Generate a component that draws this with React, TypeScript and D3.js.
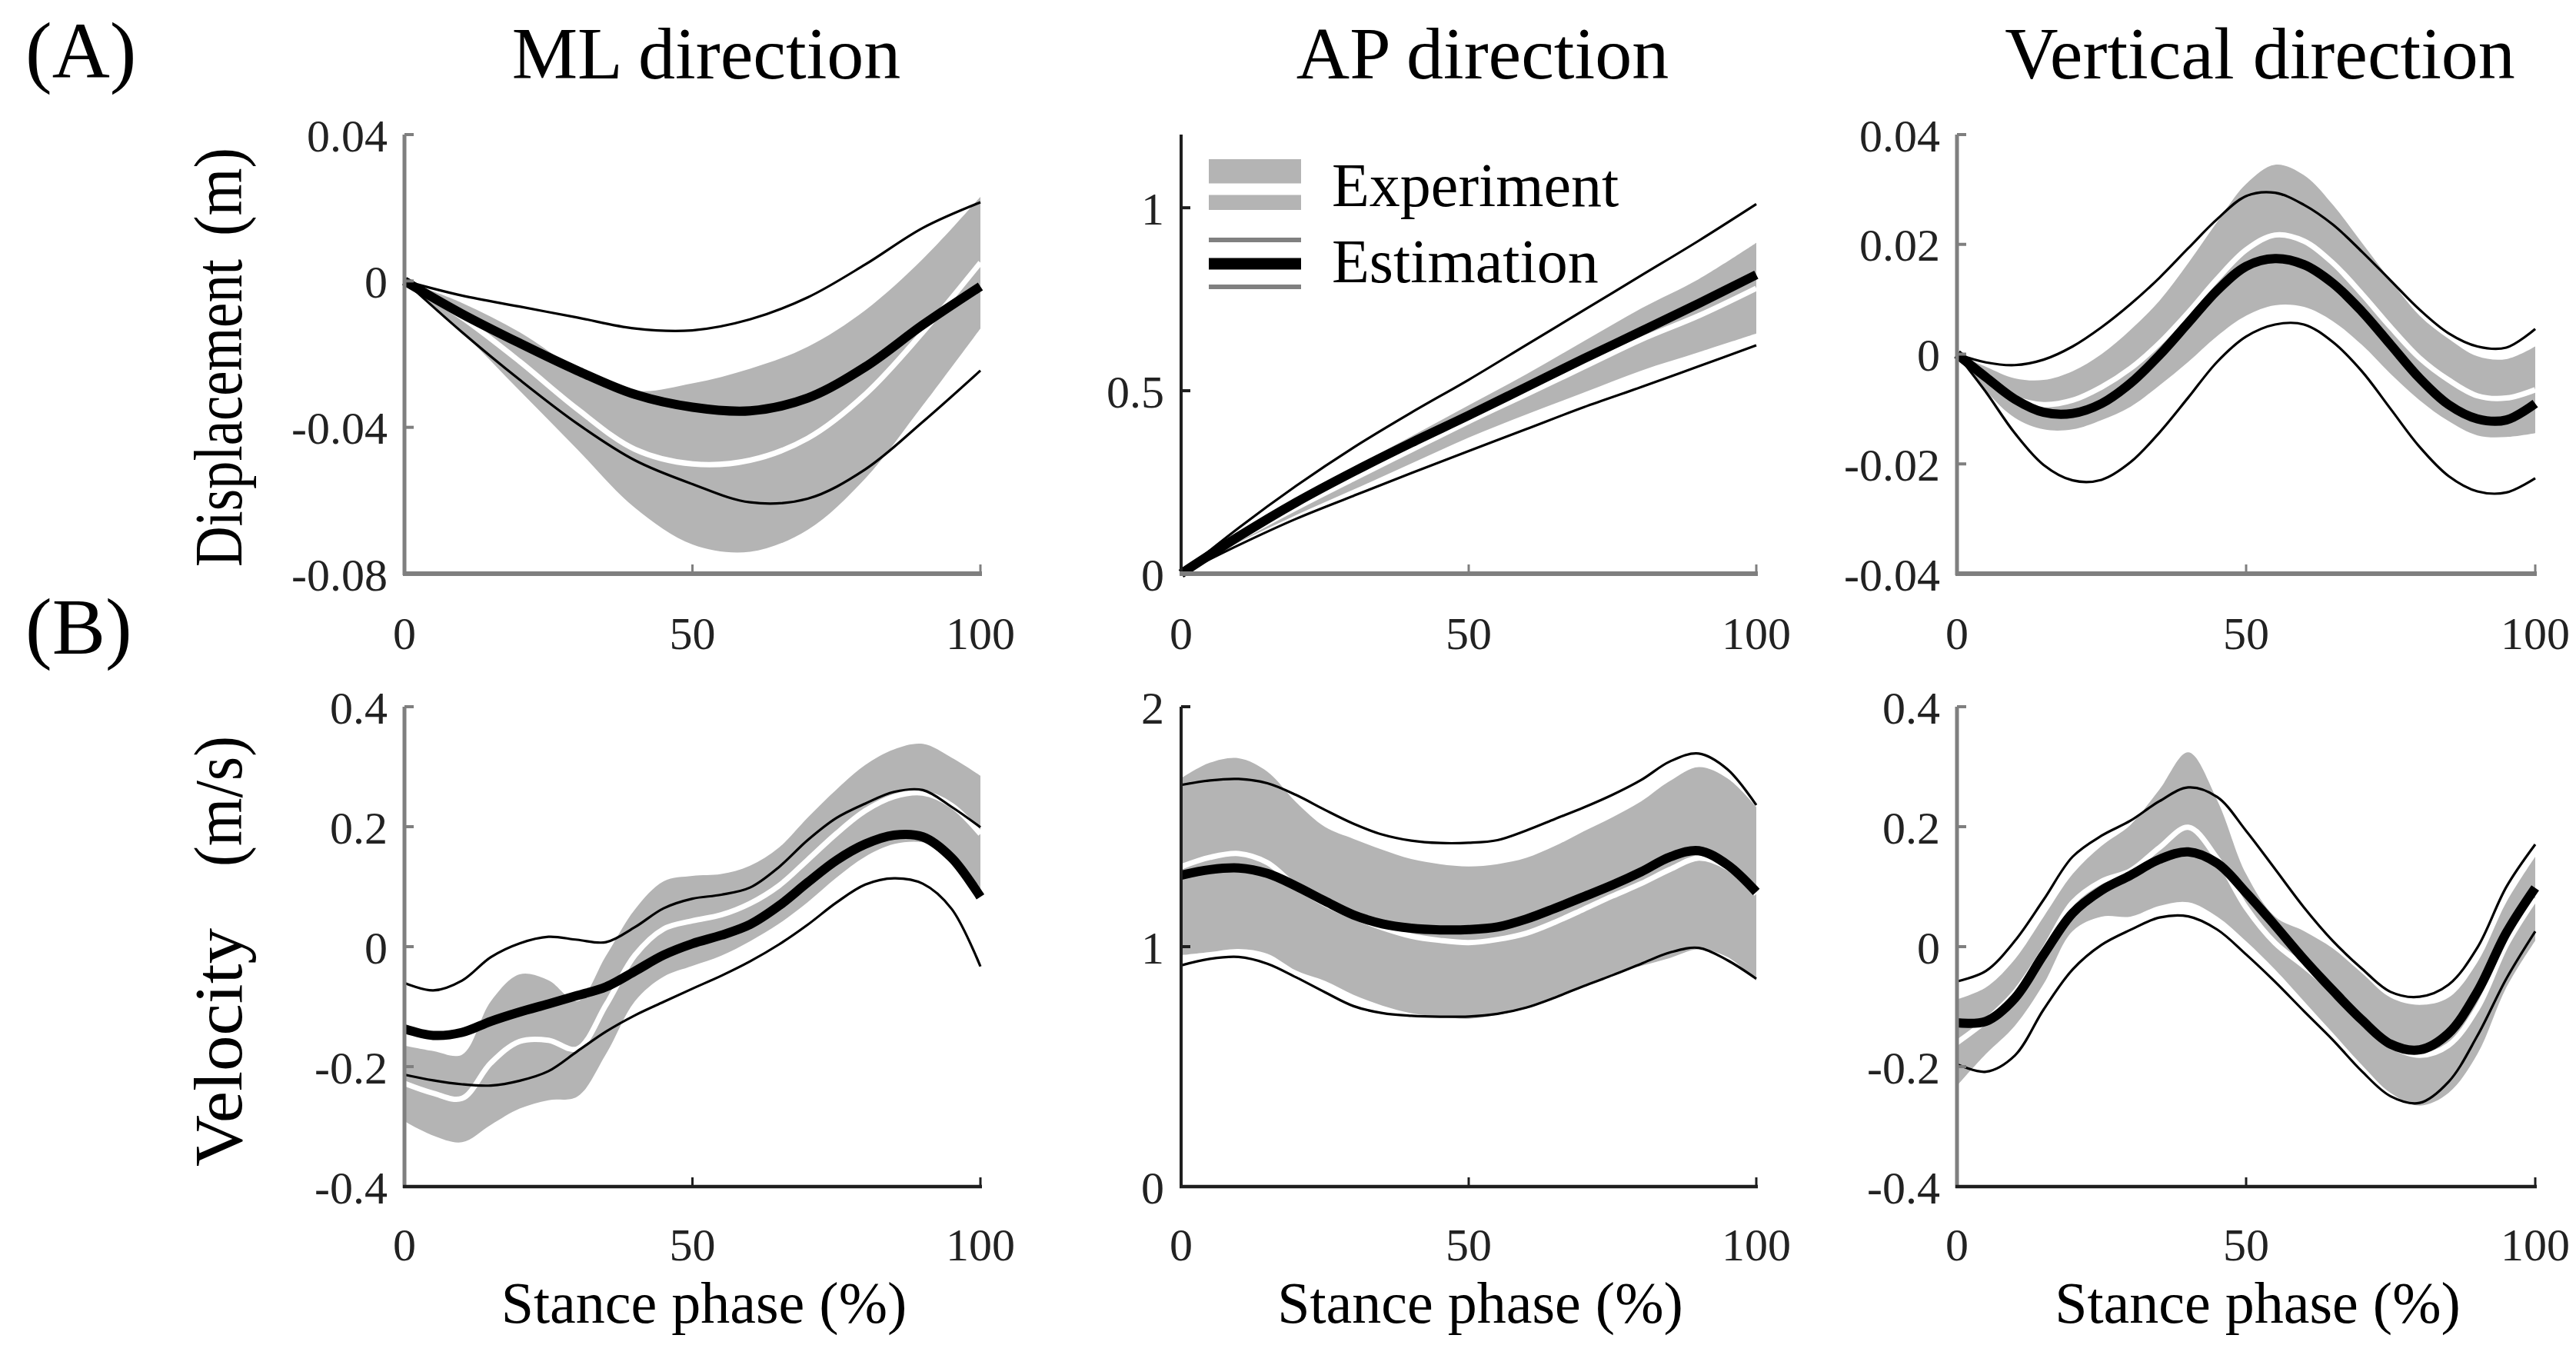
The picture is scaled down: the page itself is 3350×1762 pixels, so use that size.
import React, { useEffect } from 'react';
import * as d3 from 'd3';

const W = 3350;
const H = 1762;
const FONT = '"Liberation Serif", "Times New Roman", serif';

// stance phase grids (%)
const phase10 = [0, 10, 20, 30, 40, 50, 60, 70, 80, 90, 100];
const phase5 = [0, 5, 10, 15, 20, 25, 30, 35, 40, 45, 50, 55, 60, 65, 70, 75, 80, 85, 90, 95, 100];

const columnTitles = ['ML direction', 'AP direction', 'Vertical direction'];
const phaseTicks = [0, 50, 100];
const phaseTickLabels = ['0', '50', '100'];

// (A) displacement, ML
const a1ExpMean = [0, -0.010, -0.022, -0.035, -0.046, -0.050, -0.049, -0.043, -0.031, -0.014, 0.005];
const a1ExpSd = [0, 0.004, 0.008, 0.011, 0.016, 0.022, 0.025, 0.025, 0.023, 0.020, 0.018];
const a1EstMean = [0, -0.009, -0.017, -0.0245, -0.031, -0.0345, -0.0355, -0.032, -0.0235, -0.012, -0.0015];
const a1EstSd = [0, 0.005, 0.010, 0.0145, 0.018, 0.021, 0.025, 0.0275, 0.028, 0.0265, 0.023];

// (A) displacement, AP
const a2ExpMean = [0, 0.095, 0.18, 0.26, 0.338, 0.416, 0.49, 0.565, 0.64, 0.705, 0.78];
const a2ExpSd = [0, 0.01, 0.02, 0.03, 0.037, 0.044, 0.055, 0.07, 0.085, 0.10, 0.124];
const a2EstMean = [0, 0.1015, 0.195, 0.279, 0.3575, 0.4325, 0.51, 0.5875, 0.6625, 0.7385, 0.817];
const a2EstSd = [0, 0.0235, 0.045, 0.066, 0.0825, 0.0975, 0.115, 0.1325, 0.1525, 0.1715, 0.193];

// (A) displacement, vertical
const a3ExpMean = [0, -0.0045, -0.008, -0.0092, -0.0084, -0.006, -0.0026, 0.002, 0.0076, 0.0137, 0.019,
  0.0217, 0.0206, 0.0166, 0.011, 0.0049, -0.0007, -0.0047, -0.0076, -0.008, -0.0065];
const a3ExpSd = [0, 0.0022, 0.0036, 0.0045, 0.0053, 0.006, 0.007, 0.0077, 0.009, 0.0104, 0.012,
  0.0128, 0.012, 0.0106, 0.0093, 0.0085, 0.0077, 0.0075, 0.0072, 0.0071, 0.0079];
const a3EstMean = [0, -0.0042, -0.0082, -0.0106, -0.0108, -0.009, -0.0053, -0.0002, 0.0057, 0.0116, 0.016,
  0.0174, 0.0163, 0.0129, 0.0078, 0.0017, -0.0044, -0.0092, -0.0118, -0.012, -0.009];
const a3EstSd = [0, 0.0027, 0.0062, 0.0096, 0.0122, 0.0139, 0.0144, 0.0141, 0.0136, 0.013, 0.0128,
  0.012, 0.0109, 0.0107, 0.0109, 0.0117, 0.0125, 0.013, 0.0132, 0.0132, 0.0136];

// (B) velocity, ML
const b1ExpMean = [-0.228, -0.2445, -0.253, -0.194, -0.158, -0.156, -0.1705, -0.097, -0.0145, 0.0295, 0.043,
  0.053, 0.072, 0.1015, 0.1445, 0.1885, 0.2265, 0.25, 0.256, 0.2355, 0.188];
const b1ExpSd = [0.063, 0.0705, 0.073, 0.103, 0.112, 0.10, 0.0795, 0.082, 0.0765, 0.0795, 0.075,
  0.068, 0.063, 0.0635, 0.0705, 0.0735, 0.0765, 0.079, 0.082, 0.0795, 0.097];
const b1EstMean = [-0.137, -0.148, -0.143, -0.1245, -0.109, -0.0955, -0.0815, -0.067, -0.041, -0.014, 0.005,
  0.019, 0.037, 0.068, 0.107, 0.144, 0.171, 0.186, 0.183, 0.148, 0.083];
const b1EstSd = [0.0765, 0.075, 0.0865, 0.107, 0.1145, 0.112, 0.093, 0.0745, 0.0735, 0.078, 0.075,
  0.0675, 0.0615, 0.0645, 0.0705, 0.0705, 0.0675, 0.072, 0.078, 0.085, 0.116];

// (B) velocity, AP
const b2ExpMean = [1.333, 1.372, 1.388, 1.35, 1.251, 1.178, 1.124, 1.079, 1.044, 1.026, 1.017,
  1.03, 1.056, 1.102, 1.156, 1.211, 1.263, 1.322, 1.369, 1.329, 1.22];
const b2ExpSd = [0.3685, 0.3945, 0.3975, 0.3795, 0.3505, 0.321, 0.325, 0.325, 0.321, 0.318, 0.3175,
  0.314, 0.314, 0.3175, 0.3245, 0.3285, 0.343, 0.369, 0.3795, 0.3725, 0.3615];
const b2EstMean = [1.298, 1.321, 1.328, 1.305, 1.252, 1.19, 1.132, 1.095, 1.077, 1.07, 1.071,
  1.082, 1.115, 1.16, 1.208, 1.257, 1.312, 1.374, 1.40, 1.341, 1.228];
const b2EstSd = [0.376, 0.372, 0.371, 0.376, 0.38, 0.38, 0.38, 0.372, 0.365, 0.362, 0.362,
  0.362, 0.369, 0.372, 0.372, 0.376, 0.383, 0.398, 0.405, 0.398, 0.362];

// (B) velocity, vertical
const b3ExpMean = [-0.16, -0.1235, -0.0765, -0.006, 0.0735, 0.109, 0.1265, 0.165, 0.199, 0.147, 0.065,
  0.006, -0.0325, -0.0735, -0.1205, -0.1645, -0.181, -0.1645, -0.1025, 0.003, 0.08];
const b3ExpSd = [0.072, 0.0555, 0.0555, 0.056, 0.0475, 0.059, 0.0765, 0.097, 0.125, 0.097, 0.056,
  0.044, 0.0585, 0.0705, 0.0765, 0.0795, 0.084, 0.0795, 0.0765, 0.071, 0.07];
const b3EstMean = [-0.127, -0.1245, -0.086, -0.013, 0.056, 0.094, 0.119, 0.1455, 0.158, 0.139, 0.09,
  0.0355, -0.021, -0.073, -0.122, -0.1625, -0.172, -0.1445, -0.075, 0.023, 0.098];
const b3EstSd = [0.069, 0.084, 0.0955, 0.0915, 0.094, 0.091, 0.091, 0.097, 0.1075, 0.1105, 0.103,
  0.094, 0.0865, 0.0825, 0.0855, 0.087, 0.0885, 0.081, 0.0735, 0.0765, 0.0725];

// y ticks
const mlDispTicks = [-0.08, -0.04, 0, 0.04];
const mlDispLabels = ['-0.08', '-0.04', '0', '0.04'];
const apDispTicks = [0, 0.5, 1];
const apDispLabels = ['0', '0.5', '1'];
const vDispTicks = [-0.04, -0.02, 0, 0.02, 0.04];
const vDispLabels = ['-0.04', '-0.02', '0', '0.02', '0.04'];
const velTicks = [-0.4, -0.2, 0, 0.2, 0.4];
const velLabels = ['-0.4', '-0.2', '0', '0.2', '0.4'];
const apVelTicks = [0, 1, 2];
const apVelLabels = ['0', '1', '2'];

// layout (pixels)
const colsX: [number, number][] = [[526, 1275], [1536, 2284], [2545, 3297]];
const rowsY: [number, number][] = [[175, 746], [919, 1543]];
const GREY_AXIS = '#7f7f7f';
const DARK_AXIS = '#1e1e1e';
const BAND = '#b4b4b4';

interface Panel {
  row: number;
  col: number;
  xs: number[];
  yDomain: [number, number];
  yTicks: number[];
  yLabels: string[];
  expMean: number[];
  expSd: number[];
  estMean: number[];
  estSd: number[];
  yAxisColor: string;
  xAxisColor: string;
}

const panels: Panel[] = [
  { row: 0, col: 0, xs: phase10, yDomain: [-0.08, 0.04], yTicks: mlDispTicks, yLabels: mlDispLabels,
    expMean: a1ExpMean, expSd: a1ExpSd, estMean: a1EstMean, estSd: a1EstSd, yAxisColor: GREY_AXIS, xAxisColor: GREY_AXIS },
  { row: 0, col: 1, xs: phase10, yDomain: [0, 1.2], yTicks: apDispTicks, yLabels: apDispLabels,
    expMean: a2ExpMean, expSd: a2ExpSd, estMean: a2EstMean, estSd: a2EstSd, yAxisColor: DARK_AXIS, xAxisColor: GREY_AXIS },
  { row: 0, col: 2, xs: phase5, yDomain: [-0.04, 0.04], yTicks: vDispTicks, yLabels: vDispLabels,
    expMean: a3ExpMean, expSd: a3ExpSd, estMean: a3EstMean, estSd: a3EstSd, yAxisColor: GREY_AXIS, xAxisColor: GREY_AXIS },
  { row: 1, col: 0, xs: phase5, yDomain: [-0.4, 0.4], yTicks: velTicks, yLabels: velLabels,
    expMean: b1ExpMean, expSd: b1ExpSd, estMean: b1EstMean, estSd: b1EstSd, yAxisColor: GREY_AXIS, xAxisColor: DARK_AXIS },
  { row: 1, col: 1, xs: phase5, yDomain: [0, 2], yTicks: apVelTicks, yLabels: apVelLabels,
    expMean: b2ExpMean, expSd: b2ExpSd, estMean: b2EstMean, estSd: b2EstSd, yAxisColor: DARK_AXIS, xAxisColor: DARK_AXIS },
  { row: 1, col: 2, xs: phase5, yDomain: [-0.4, 0.4], yTicks: velTicks, yLabels: velLabels,
    expMean: b3ExpMean, expSd: b3ExpSd, estMean: b3EstMean, estSd: b3EstSd, yAxisColor: GREY_AXIS, xAxisColor: DARK_AXIS },
];

type Pt = { x: number; y: number };
type Band = { x: number; lo: number; hi: number };

const PanelView: React.FC<{ p: Panel }> = ({ p }) => {
  const [x0, x1] = colsX[p.col];
  const [yTop, yBottom] = rowsY[p.row];
  const x = d3.scaleLinear().domain([0, 100]).range([x0, x1]);
  const y = d3.scaleLinear().domain(p.yDomain).range([yBottom, yTop]);
  const curve = d3.curveCatmullRom.alpha(0.5);

  const line = d3.line<Pt>().x(d => x(d.x)).y(d => y(d.y)).curve(curve);
  const area = d3.area<Band>().x(d => x(d.x)).y0(d => y(d.lo)).y1(d => y(d.hi)).curve(curve);

  const series = (m: number[], s: number[], k: number): Pt[] =>
    p.xs.map((v, i) => ({ x: v, y: m[i] + k * s[i] }));
  const band: Band[] = p.xs.map((v, i) => ({ x: v, lo: p.expMean[i] - p.expSd[i], hi: p.expMean[i] + p.expSd[i] }));

  const tickLen = 12;
  const labelY = p.row === 0 ? 844 : 1639;

  return (
    <g>
      <path d={area(band) || ''} fill={BAND} stroke="none" />
      <path d={line(series(p.expMean, p.expSd, 0)) || ''} fill="none" stroke="#fff" strokeWidth={7} />
      <path d={line(series(p.estMean, p.estSd, 1)) || ''} fill="none" stroke="#000" strokeWidth={3.2} />
      <path d={line(series(p.estMean, p.estSd, -1)) || ''} fill="none" stroke="#000" strokeWidth={3.2} />
      <path d={line(series(p.estMean, p.estSd, 0)) || ''} fill="none" stroke="#000" strokeWidth={12} />

      {/* axes */}
      <line x1={x0} x2={x0} y1={yTop} y2={yBottom + 2} stroke={p.yAxisColor} strokeWidth={p.yAxisColor === GREY_AXIS ? 5 : 4} />
      <line x1={x0 - 2} x2={x1 + 2} y1={yBottom} y2={yBottom} stroke={p.xAxisColor} strokeWidth={p.xAxisColor === GREY_AXIS ? 6 : 4.5} />
      {p.yTicks.map((t, i) => (
        <g key={'yt' + i}>
          {y(t) < yBottom - 1 && (
            <line x1={x0} x2={x0 + tickLen} y1={y(t)} y2={y(t)} stroke={p.yAxisColor} strokeWidth={4} />
          )}
          <text x={x0 - 22} y={y(t)} dy="0.36em" textAnchor="end" fontSize={60} fontFamily={FONT} fill="#222">
            {p.yLabels[i]}
          </text>
        </g>
      ))}
      {phaseTicks.map((t, i) => (
        <g key={'xt' + i}>
          {t > 0 && (
            <line x1={x(t)} x2={x(t)} y1={yBottom} y2={yBottom - tickLen} stroke={p.xAxisColor} strokeWidth={3} />
          )}
          <text x={x(t)} y={labelY} textAnchor="middle" fontSize={60} fontFamily={FONT} fill="#222">
            {phaseTickLabels[i]}
          </text>
        </g>
      ))}
    </g>
  );
};

const Legend: React.FC = () => {
  const lx0 = 1572;
  const lx1 = 1692;
  return (
    <g>
      <rect x={lx0} y={207} width={lx1 - lx0} height={66} fill={BAND} />
      <line x1={lx0} x2={lx1} y1={246} y2={246} stroke="#fff" strokeWidth={15} />
      <line x1={lx0} x2={lx1} y1={312} y2={312} stroke="#808080" strokeWidth={6} />
      <line x1={lx0} x2={lx1} y1={343} y2={343} stroke="#000" strokeWidth={15} />
      <line x1={lx0} x2={lx1} y1={373} y2={373} stroke="#808080" strokeWidth={6} />
      <text x={1732} y={268} fontSize={80} fontFamily={FONT} fill="#000">Experiment</text>
      <text x={1732} y={367} fontSize={80} fontFamily={FONT} fill="#000">Estimation</text>
    </g>
  );
};

export default function App() {
  useEffect(() => {
    document.body.style.margin = '0';
  }, []);

  const rotated = (x: number, y: number) => `translate(${x},${y}) rotate(-90)`;

  return (
    <svg width={W} height={H} viewBox={`0 0 ${W} ${H}`} style={{ display: 'block', background: '#fff' }}>
      <rect x={0} y={0} width={W} height={H} fill="#fff" />

      {/* panel letters */}
      <text x={33} y={101} fontSize={104} fontFamily={FONT} fill="#000">(A)</text>
      <text x={33} y={850} fontSize={104} fontFamily={FONT} fill="#000">(B)</text>

      {/* column titles */}
      {columnTitles.map((t, i) => (
        <text key={t} x={(colsX[i][0] + colsX[i][1]) / 2 + 18} y={102} textAnchor="middle"
          fontSize={96} fontFamily={FONT} fill="#000">{t}</text>
      ))}

      {/* y labels */}
      <text transform={rotated(314, 737)} fontSize={88} fontFamily={FONT} fill="#000"
        textLength={400} lengthAdjust="spacingAndGlyphs">Displacement</text>
      <text transform={rotated(314, 192)} textAnchor="end" fontSize={88} fontFamily={FONT} fill="#000"
        textLength={115} lengthAdjust="spacingAndGlyphs">(m)</text>
      <text transform={rotated(314, 1517)} fontSize={88} fontFamily={FONT} fill="#000"
        textLength={310} lengthAdjust="spacingAndGlyphs">Velocity</text>
      <text transform={rotated(314, 957)} textAnchor="end" fontSize={88} fontFamily={FONT} fill="#000"
        textLength={170} lengthAdjust="spacingAndGlyphs">(m/s)</text>

      {panels.map((p, i) => <PanelView key={i} p={p} />)}

      <Legend />

      {/* x labels */}
      {colsX.map((c, i) => (
        <text key={'xl' + i} x={(c[0] + c[1]) / 2 + 15} y={1720} textAnchor="middle"
          fontSize={76} fontFamily={FONT} fill="#000">Stance phase (%)</text>
      ))}
    </svg>
  );
}
